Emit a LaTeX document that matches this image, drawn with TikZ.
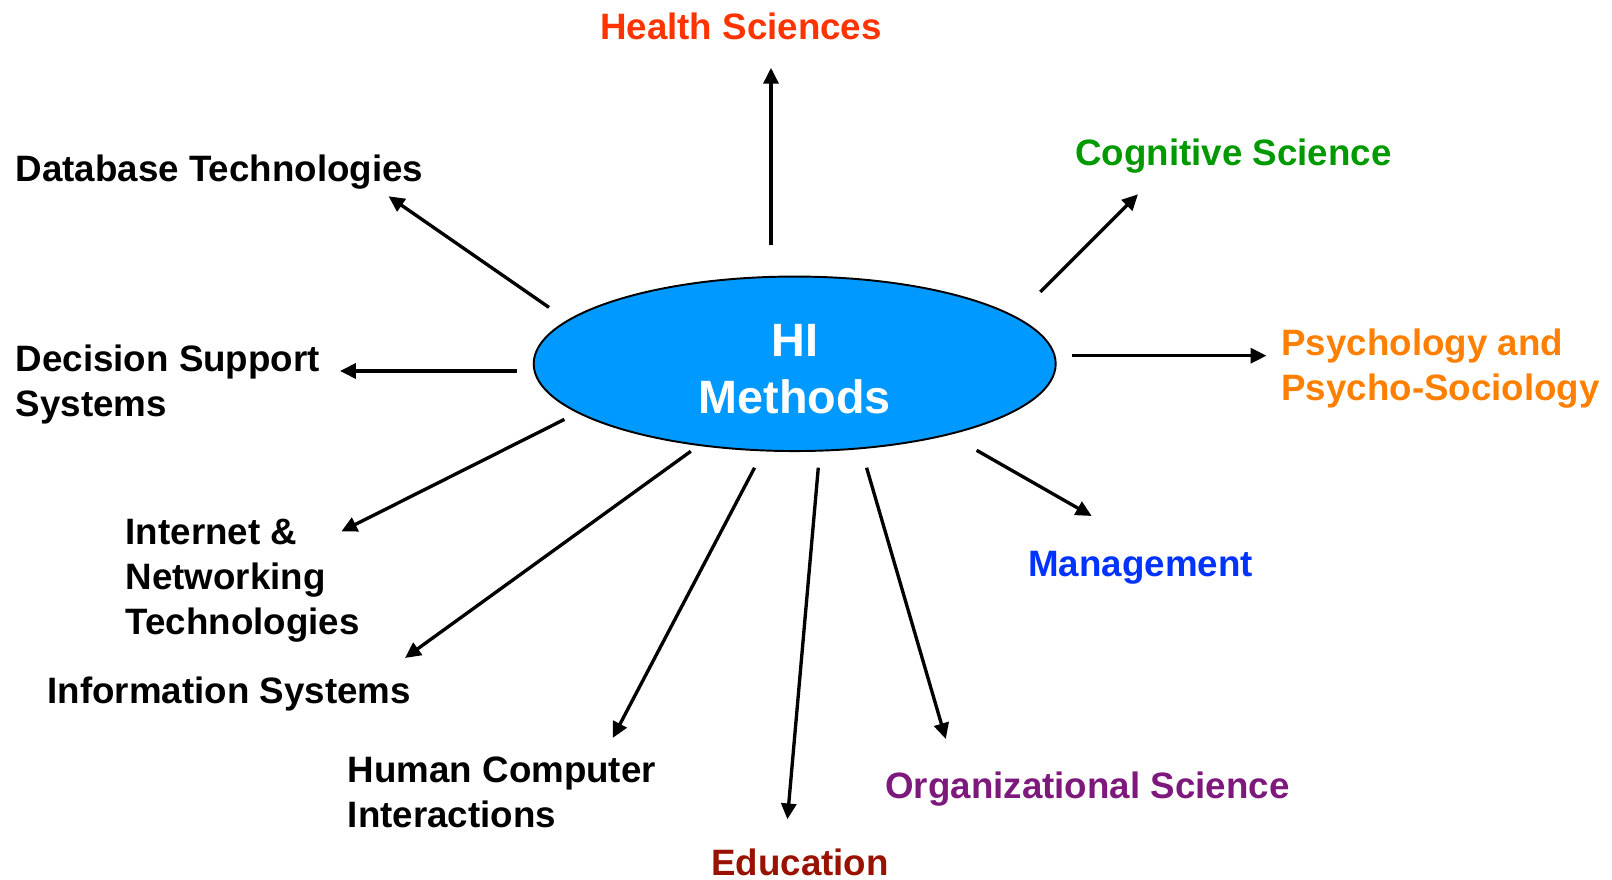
\documentclass[tikz,border=0pt]{standalone}
\usepackage{fontspec}
\setmainfont{Liberation Sans}
\usepackage{tikz}
\usetikzlibrary{arrows, arrows.meta}
\usetikzlibrary{shapes.geometric}

\definecolor{hiblue}{RGB}{0,153,255}
\definecolor{hsred}{RGB}{255,51,0}
\definecolor{csgreen}{RGB}{0,153,0}
\definecolor{psorange}{RGB}{255,128,0}
\definecolor{mgblue}{RGB}{0,51,255}
\definecolor{orgpurple}{RGB}{125,25,125}
\definecolor{edred}{RGB}{153,17,0}

\begin{document}
\begin{tikzpicture}[scale=0.2,
  lbl/.style={font=\fontsize{20.9}{25.7}\selectfont\bfseries, align=left},
  arr/.style={black, line width=1.9pt, -{Triangle[length=9pt,width=8.5pt]}}]
\tikzstyle{every node}+=[inner sep=0pt]
\useasboundingbox (0,0) rectangle (161.2,-88);
% center
\node [ellipse, draw=black, line width=1.1pt, fill=hiblue, minimum width=10.44cm, minimum height=3.49cm,
  align=center, text=white, font=\fontsize{26.6}{32.8}\selectfont\bfseries] (hi) at (79.47,-36.38) {};
\node [align=center, text=white, font=\fontsize{26.6}{32.8}\selectfont\bfseries] (hitxt) at (79.47,-36.9) {HI\\Methods};
% labels
\node [lbl, text=hsred] (hs) at (74.1,-2.67) {Health Sciences};
\node [lbl, anchor=west] (db) at (1.54,-17.16) {Database Technologies};
\node [lbl, anchor=west, text=csgreen] (cs) at (107.5,-15.6) {Cognitive Science};
\node [lbl, anchor=west] (ds) at (1.54,-38.44) {Decision Support\\Systems};
\node [lbl, anchor=west, text=psorange] (ps) at (128.1,-36.9) {Psychology and\\Psycho-Sociology};
\node [lbl, anchor=west] (in) at (12.54,-58.07) {Internet \&\\Networking\\Technologies};
\node [lbl, anchor=west] (is) at (4.73,-69.4) {Information Systems};
\node [lbl, anchor=west, text=mgblue] (mg) at (102.8,-56.8) {Management};
\node [lbl, anchor=west] (hc) at (34.75,-79.26) {Human Computer\\Interactions};
\node [lbl, text=edred] (ed) at (80.0,-86.25) {Education};
\node [lbl, anchor=west, text=orgpurple] (os) at (88.5,-78.9) {Organizational Science};
% arrow ends
\coordinate (hs0) at (77.1,-24.47);  \coordinate (hs1) at (77.1,-6.78);
\coordinate (db0) at (54.9,-30.74);  \coordinate (db1) at (38.86,-19.63);
\coordinate (cs0) at (104.03,-29.2); \coordinate (cs1) at (113.8,-19.43);
\coordinate (ds0) at (51.7,-37.1);   \coordinate (ds1) at (34.0,-37.1);
\coordinate (ps0) at (107.2,-35.57); \coordinate (ps1) at (126.65,-35.57);
\coordinate (in0) at (56.44,-41.94); \coordinate (in1) at (34.13,-53.15);
\coordinate (is0) at (69.08,-45.13); \coordinate (is1) at (40.5,-65.8);
\coordinate (hc0) at (75.46,-46.77); \coordinate (hc1) at (61.27,-73.8);
\coordinate (ed0) at (81.83,-46.77); \coordinate (ed1) at (78.74,-81.93);
\coordinate (os0) at (86.66,-46.77); \coordinate (os1) at (94.58,-73.9);
\coordinate (mg0) at (97.66,-45.03); \coordinate (mg1) at (109.17,-51.6);
% arrows
\draw [arr] (hs0) -- (hs1);
\draw [arr] (db0) -- (db1);
\draw [arr] (cs0) -- (cs1);
\draw [arr] (ds0) -- (ds1);
\draw [arr] (ps0) -- (ps1);
\draw [arr] (in0) -- (in1);
\draw [arr] (is0) -- (is1);
\draw [arr] (hc0) -- (hc1);
\draw [arr] (ed0) -- (ed1);
\draw [arr] (os0) -- (os1);
\draw [arr] (mg0) -- (mg1);
\end{tikzpicture}
\end{document}
